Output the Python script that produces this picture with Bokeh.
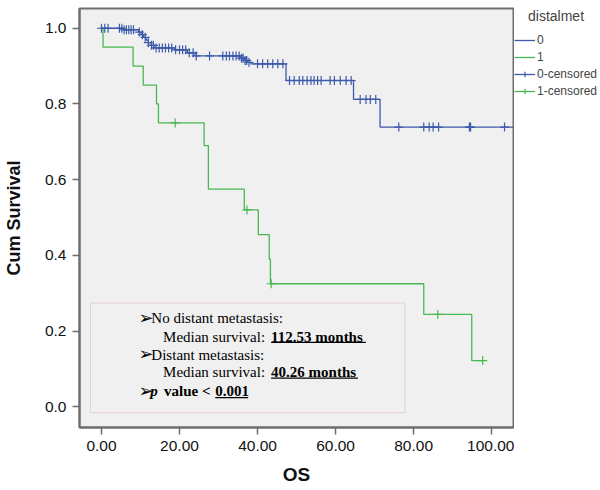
import numpy as np
from bokeh.plotting import figure
from bokeh.layouts import row
from bokeh.models import (Range1d, FixedTicker, NumeralTickFormatter, Legend, LegendItem,
                          BoxAnnotation, Label, ColumnDataSource)
from bokeh.embed import file_html
from bokeh.resources import INLINE

# ---------------- data ----------------
# distalmet = 0 : Kaplan-Meier step points (time, cumulative survival)
t0 = [0, 5.5, 9.5, 10.2, 10.8, 11.4, 12.0, 12.8, 13.5, 18.7, 22.0, 24.0,
      35.8, 36.6, 37.4, 38.3, 47.3, 64.6, 71.4]
s0 = [1.0, 0.996, 0.99, 0.983, 0.976, 0.969, 0.962, 0.955, 0.948, 0.943, 0.935, 0.927,
      0.921, 0.915, 0.91, 0.906, 0.862, 0.812, 0.739]
end0 = 105.5
# distalmet = 0 : censored times
c0 = [0, 0.85, 1.7, 4.6, 5.2, 5.8, 6.4, 7.0, 7.6, 8.2, 9.7, 10.5, 11.2, 12.0, 12.8,
      13.3, 14.0, 14.8, 15.6, 16.4, 17.2, 18.0, 19.0, 20.0, 20.8, 21.6, 22.5, 23.5,
      24.3, 27.7, 31.1, 32.0, 32.8, 33.7, 34.5, 35.3, 35.9, 36.3, 36.8, 37.2, 37.8,
      40.0, 41.3, 42.6, 43.9, 45.2, 46.5, 48.2, 49.4, 50.7, 51.6, 52.7, 53.7, 54.5,
      55.4, 56.3, 58.6, 59.7, 61.2, 62.7, 64.0, 66.3, 67.8, 68.9, 70.3, 76.2, 82.6,
      84.0, 85.0, 86.4, 94.3, 94.6, 103.3]

# distalmet = 1
t1 = [0, 0.4, 8.1, 10.7, 14.1, 14.6, 26.3, 27.4, 36.6, 40.2, 43.0, 43.3, 82.6, 94.9]
s1 = [1.0, 0.95, 0.90, 0.85, 0.80, 0.75, 0.69, 0.575, 0.52, 0.455, 0.39, 0.325, 0.244, 0.122]
end1 = 97.7
c1 = [18.9, 37.3, 43.5, 86.2, 97.7]

x_ticks = [0, 20, 40, 60, 80, 100]
y_ticks = [0.0, 0.2, 0.4, 0.6, 0.8, 1.0]

group_labels = ["0", "1", "0-censored", "1-censored"]
legend_title = "distalmet"

# ---------------- styles ----------------
BLUE = "#3d59a9"
GREEN = "#48b851"
FRAME = "#6e6e6e"
SANS = "Liberation Sans"
SERIF = "Liberation Serif"


def surv_at(times, surv, t):
    idx = np.searchsorted(np.asarray(times), np.asarray(t), side="right") - 1
    return list(np.asarray(surv)[idx])


src0 = ColumnDataSource(dict(x=t0 + [end0], y=s0 + [s0[-1]]))
src1 = ColumnDataSource(dict(x=t1 + [end1], y=s1 + [s1[-1]]))
cs0 = ColumnDataSource(dict(x=c0, y=surv_at(t0, s0, c0)))
cs1 = ColumnDataSource(dict(x=c1, y=surv_at(t1, s1, c1)))

p = figure(width=514, height=490,
           x_range=Range1d(-5.63, 105.6), y_range=Range1d(-0.0548, 1.0522),
           output_backend="svg", toolbar_location=None,
           min_border_left=78, min_border_right=1, min_border_top=3, min_border_bottom=63)

p.background_fill_color = "#f0f0f0"
p.border_fill_color = "white"
p.outline_line_color = FRAME
p.outline_line_width = 2
p.grid.visible = False

p.step("x", "y", source=src0, mode="after", line_color=BLUE, line_width=1.3)
p.step("x", "y", source=src1, mode="after", line_color=GREEN, line_width=1.3)
p.scatter("x", "y", source=cs0, marker="cross", size=9, line_color=BLUE, line_width=1.2)
p.scatter("x", "y", source=cs1, marker="cross", size=9, line_color=GREEN, line_width=1.2)

# axes
for ax in (p.xaxis[0], p.yaxis[0]):
    ax.axis_line_color = FRAME
    ax.axis_line_width = 2
    ax.major_tick_line_color = FRAME
    ax.major_tick_line_width = 1.5
    ax.major_tick_out = 7
    ax.major_tick_in = 0
    ax.minor_tick_line_color = None
    ax.major_label_text_font = SANS
    ax.major_label_text_font_size = "15.5px"
    ax.major_label_text_color = "#111111"
    ax.axis_label_text_font = SANS
    ax.axis_label_text_font_style = "bold"
    ax.axis_label_text_color = "#111111"

p.xaxis.ticker = FixedTicker(ticks=x_ticks)
p.xaxis.formatter = NumeralTickFormatter(format="0.00")
p.xaxis.axis_label = "OS"
p.xaxis.axis_label_text_font_size = "19px"
p.xaxis.major_label_standoff = 6
p.xaxis.axis_label_standoff = 10

p.yaxis.ticker = FixedTicker(ticks=y_ticks)
p.yaxis.formatter = NumeralTickFormatter(format="0.0")
p.yaxis.axis_label = "Cum Survival"
p.yaxis.axis_label_text_font_size = "18px"
p.yaxis.major_label_standoff = 6
p.yaxis.axis_label_standoff = 18

# annotation box with median survival text
p.add_layout(BoxAnnotation(left=-2.81, right=77.75, top=0.274, bottom=-0.0157,
                           fill_alpha=0, line_color="#d08a8a", line_width=1))


def lab(x, y, text, font=SERIF, style="normal", size="15px"):
    p.add_layout(Label(x=x, y=y, text=text, text_font=font, text_font_style=style,
                       text_font_size=size, text_baseline="middle", text_color="black"))


ARROW = "\u27a2"
lab(9.5, 0.237, ARROW, font="DejaVu Sans", size="18px")
lab(12.79, 0.235, "No distant metastasis:")
lab(15.78, 0.185, "Median survival:")
lab(43.48, 0.185, "112.53 months", style="bold")
lab(9.5, 0.140, ARROW, font="DejaVu Sans", size="18px")
lab(12.79, 0.138, "Distant metastasis:")
lab(15.78, 0.0914, "Median survival:")
lab(43.48, 0.0914, "40.26 months", style="bold")
lab(9.5, 0.0438, ARROW, font="DejaVu Sans", size="18px")
lab(12.53, 0.0418, "p", style="bold italic")
lab(16.04, 0.0418, "value <", style="bold")
lab(29.16, 0.0418, "0.001", style="bold")

# underlines
p.segment(x0=[43.48, 43.48, 29.16], x1=[67.77, 65.73, 37.6],
          y0=[0.170, 0.0757, 0.0243], y1=[0.170, 0.0757, 0.0243],
          line_color="black", line_width=1.2)

# ---------------- legend panel (separate narrow figure) ----------------
# its ranges lie outside the data, so only the legend shows
q = figure(width=86, height=490, x_range=Range1d(-30, -20), y_range=Range1d(-30, -20),
           output_backend="svg", toolbar_location=None,
           min_border_left=0, min_border_right=0, min_border_top=8, min_border_bottom=0)
q.axis.visible = False
q.grid.visible = False
q.outline_line_color = None
q.background_fill_color = "white"

l0 = q.step("x", "y", source=src0, mode="after", line_color=BLUE, line_width=1.3)
l1 = q.step("x", "y", source=src1, mode="after", line_color=GREEN, line_width=1.3)
k0 = q.scatter("x", "y", source=cs0, marker="cross", size=9, line_color=BLUE, line_width=1.2)
k1 = q.scatter("x", "y", source=cs1, marker="cross", size=9, line_color=GREEN, line_width=1.2)

legend = Legend(items=[
    LegendItem(label=group_labels[0], renderers=[l0]),
    LegendItem(label=group_labels[1], renderers=[l1]),
    LegendItem(label=group_labels[2], renderers=[l0, k0]),
    LegendItem(label=group_labels[3], renderers=[l1, k1]),
], location="top_left", title="\u2003" + legend_title)
legend.title_text_font = SANS
legend.title_text_font_size = "14px"
legend.title_text_font_style = "normal"
legend.title_standoff = 9
legend.label_text_font = SANS
legend.label_text_font_size = "12px"
legend.glyph_width = 21
legend.glyph_height = 14
legend.label_height = 14
legend.label_standoff = 2
legend.spacing = 3
legend.padding = 2
legend.margin = 0
legend.border_line_color = None
legend.background_fill_alpha = 0
q.add_layout(legend)

layout = row(p, q)
open("out.html", "w").write(file_html(layout, INLINE))
